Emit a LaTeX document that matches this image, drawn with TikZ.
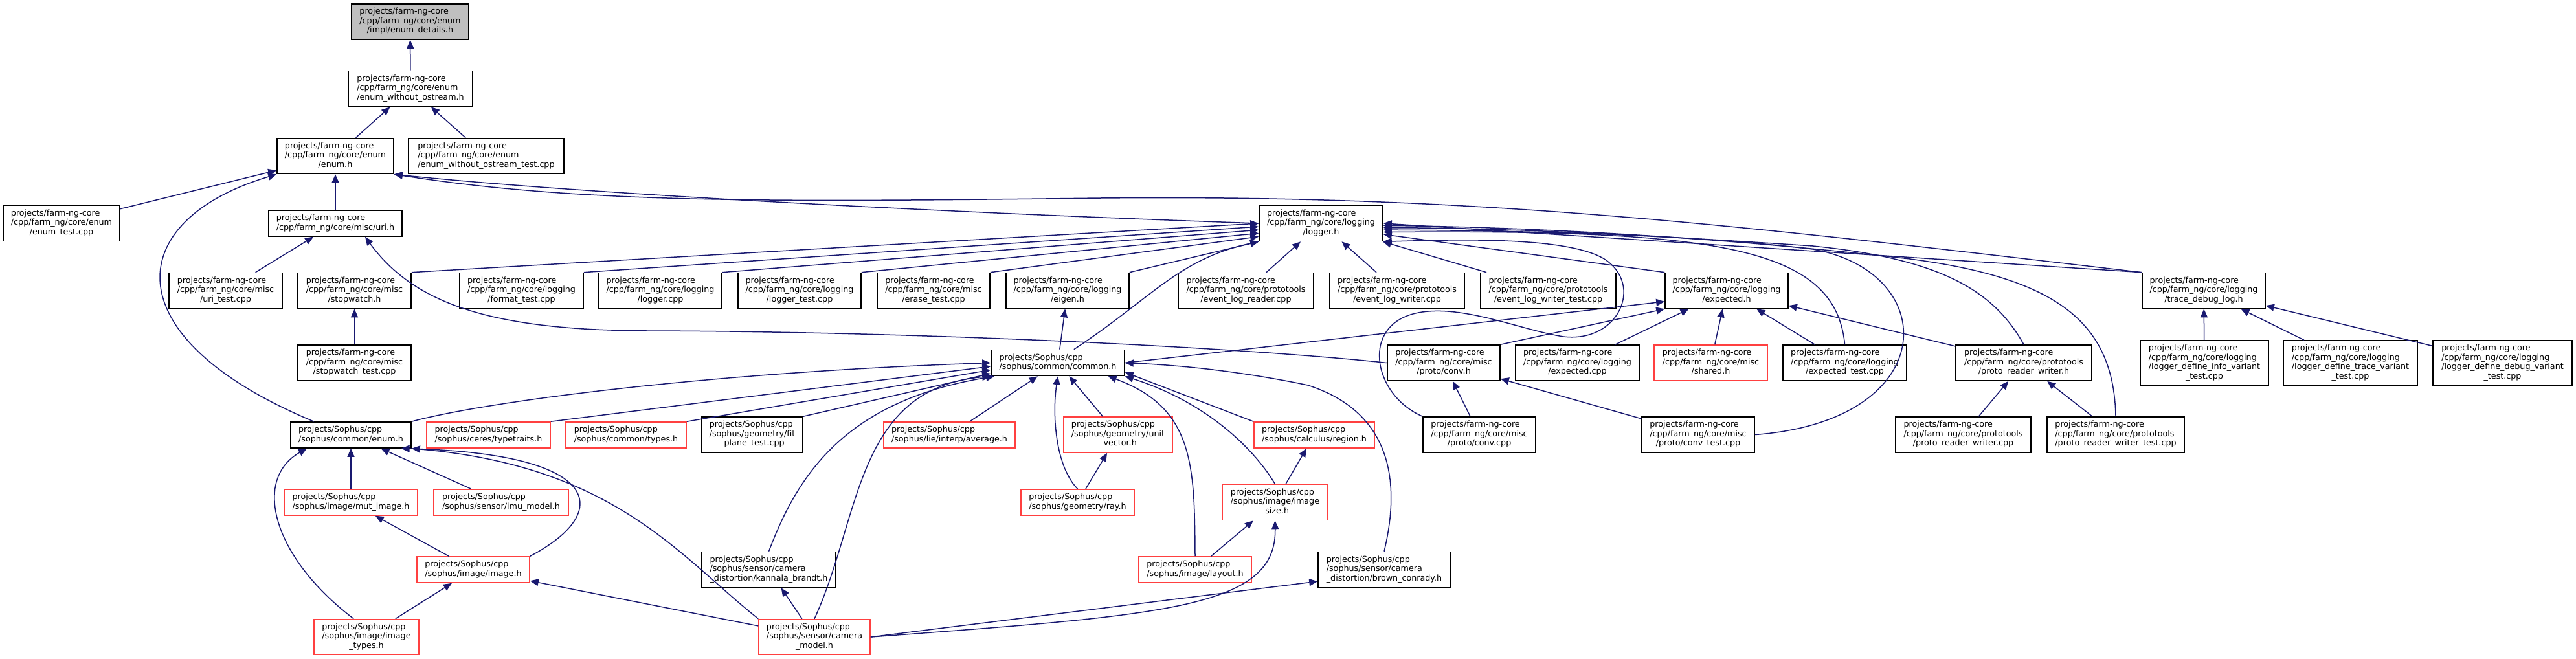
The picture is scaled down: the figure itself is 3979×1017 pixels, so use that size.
\documentclass[tikz,border=0pt]{standalone}
\usepackage{fontspec}
\setmainfont{DejaVu Sans}
\usetikzlibrary{arrows.meta}

\definecolor{edgeblue}{HTML}{191970}
\definecolor{clipred}{HTML}{FF4040}
\definecolor{rootgray}{HTML}{BFBFBF}

\newcommand\fng{projects/farm-ng-core}
\newcommand\sph{projects/Sophus/cpp}
\newcommand\fcore[1]{/cpp/farm\_ng/core/#1}
\newcommand\twoln[2]{\begin{tabular}{@{}l@{}}#1\\\multicolumn{1}{@{}c@{}}{#2}\end{tabular}}
\newcommand\threeln[3]{\begin{tabular}{@{}l@{}}#1\\#2\\\multicolumn{1}{@{}c@{}}{#3}\end{tabular}}
\newcommand\fourln[4]{\begin{tabular}{@{}l@{}}#1\\#2\\#3\\\multicolumn{1}{@{}c@{}}{#4}\end{tabular}}

\tikzset{
  filebox/.style={
    shape = rectangle,
    draw = black,
    fill = white,
    line width = 1.6pt,
    inner sep = 0pt,
    font = \fontsize{12.7}{14.5}\selectfont
  },
  redbox/.style={
    filebox,
    draw = clipred
  },
  rootbox/.style={
    filebox,
    fill = rootgray
  },
  wh/.style 2 args={
    minimum width = #1pt,
    minimum height = #2pt
  },
  incl/.style={
    draw = edgeblue,
    line width = 1.5pt,
    -{Triangle[length=13pt,width=11pt]}
  }
}

\begin{document}
\begin{tikzpicture}[x=1pt,y=-1pt]
    \fill[white] (0,0) rectangle (3979,1017);
    \useasboundingbox (0,0) rectangle (3979,1017);

    % farm-ng-core enum
    \node[rootbox, wh={181}{55}] (enumdet) at (633.5,33.5) {\threeln{\fng}{\fcore{enum}}{/impl/enum\_details.h}};
    \node[filebox, wh={192}{55}] (ewo) at (634,137) {\threeln{\fng}{\fcore{enum}}{/enum\_without\_ostream.h}};
    \node[filebox, wh={180}{55}] (enumh) at (518,241) {\threeln{\fng}{\fcore{enum}}{/enum.h}};
    \node[filebox, wh={240}{55}] (ewotest) at (751,241) {\threeln{\fng}{\fcore{enum}}{/enum\_without\_ostream\_test.cpp}};
    \node[filebox, wh={180}{55}] (enumtest) at (95,345) {\threeln{\fng}{\fcore{enum}}{/enum\_test.cpp}};
    \node[filebox, wh={206}{40}] (urih) at (518,345) {\twoln{\fng}{\fcore{misc/uri.h}}};
    \node[filebox, wh={191}{55}] (logger) at (2040.5,345) {\threeln{\fng}{\fcore{logging}}{/logger.h}};

    % row under logger.h
    \node[filebox, wh={175}{55}] (uritest) at (348.5,449) {\threeln{\fng}{\fcore{misc}}{/uri\_test.cpp}};
    \node[filebox, wh={175}{55}] (stopwatch) at (547.5,449) {\threeln{\fng}{\fcore{misc}}{/stopwatch.h}};
    \node[filebox, wh={191}{55}] (fmttest) at (805.5,449) {\threeln{\fng}{\fcore{logging}}{/format\_test.cpp}};
    \node[filebox, wh={190}{55}] (loggercpp) at (1020,449) {\threeln{\fng}{\fcore{logging}}{/logger.cpp}};
    \node[filebox, wh={190}{55}] (loggertest) at (1235,449) {\threeln{\fng}{\fcore{logging}}{/logger\_test.cpp}};
    \node[filebox, wh={174}{55}] (erasetest) at (1442,449) {\threeln{\fng}{\fcore{misc}}{/erase\_test.cpp}};
    \node[filebox, wh={190}{55}] (eigen) at (1649,449) {\threeln{\fng}{\fcore{logging}}{/eigen.h}};
    \node[filebox, wh={209}{55}] (elreader) at (1924.5,449) {\threeln{\fng}{\fcore{prototools}}{/event\_log\_reader.cpp}};
    \node[filebox, wh={208}{55}] (elwriter) at (2158,449) {\threeln{\fng}{\fcore{prototools}}{/event\_log\_writer.cpp}};
    \node[filebox, wh={209}{55}] (elwtest) at (2391.5,449) {\threeln{\fng}{\fcore{prototools}}{/event\_log\_writer\_test.cpp}};
    \node[filebox, wh={190}{55}] (expectedh) at (2667,449) {\threeln{\fng}{\fcore{logging}}{/expected.h}};
    \node[filebox, wh={190}{55}] (tdl) at (3404,449) {\threeln{\fng}{\fcore{logging}}{/trace\_debug\_log.h}};

    \node[filebox, wh={175}{55}] (swtest) at (547.5,560.5) {\threeln{\fng}{\fcore{misc}}{/stopwatch\_test.cpp}};
    \node[filebox, wh={206}{40}] (common) at (1634,560.5) {\twoln{\sph}{/sophus/common/common.h}};
    \node[filebox, wh={174}{55}] (convh) at (2230,560.5) {\threeln{\fng}{\fcore{misc}}{/proto/conv.h}};
    \node[filebox, wh={191}{55}] (expcpp) at (2436.5,560.5) {\threeln{\fng}{\fcore{logging}}{/expected.cpp}};
    \node[redbox, wh={175}{55}] (shared) at (2642.5,560.5) {\threeln{\fng}{\fcore{misc}}{/shared.h}};
    \node[filebox, wh={191}{55}] (exptest) at (2849.5,560.5) {\threeln{\fng}{\fcore{logging}}{/expected\_test.cpp}};
    \node[filebox, wh={210}{55}] (prwh) at (3126,560.5) {\threeln{\fng}{\fcore{prototools}}{/proto\_reader\_writer.h}};
    \node[filebox, wh={198}{69}] (info) at (3405,560.5) {\fourln{\fng}{\fcore{logging}}{/logger\_define\_info\_variant}{\_test.cpp}};
    \node[filebox, wh={207}{69}] (trace) at (3630.5,560.5) {\fourln{\fng}{\fcore{logging}}{/logger\_define\_trace\_variant}{\_test.cpp}};
    \node[filebox, wh={215}{69}] (debug) at (3865.5,560.5) {\fourln{\fng}{\fcore{logging}}{/logger\_define\_debug\_variant}{\_test.cpp}};

    % Sophus
    \node[filebox, wh={186}{40}] (senum) at (542,672) {\twoln{\sph}{/sophus/common/enum.h}};
    \node[redbox, wh={191}{40}] (typetraits) at (754.5,672) {\twoln{\sph}{/sophus/ceres/typetraits.h}};
    \node[redbox, wh={186}{40}] (types) at (967,672) {\twoln{\sph}{/sophus/common/types.h}};
    \node[filebox, wh={156}{55}] (fitplane) at (1162,671.5) {\threeln{\sph}{/sophus/geometry/fit}{\_plane\_test.cpp}};
    \node[redbox, wh={203}{40}] (average) at (1466.5,672) {\twoln{\sph}{/sophus/lie/interp/average.h}};
    \node[redbox, wh={168}{55}] (unitvec) at (1727,671.5) {\threeln{\sph}{/sophus/geometry/unit}{\_vector.h}};
    \node[redbox, wh={186}{40}] (region) at (2030,672) {\twoln{\sph}{/sophus/calculus/region.h}};
    \node[filebox, wh={174}{55}] (convcpp) at (2285,671.5) {\threeln{\fng}{\fcore{misc}}{/proto/conv.cpp}};
    \node[filebox, wh={174}{55}] (convtest) at (2623,671.5) {\threeln{\fng}{\fcore{misc}}{/proto/conv\_test.cpp}};
    \node[filebox, wh={209}{55}] (prwcpp) at (3032.5,671.5) {\threeln{\fng}{\fcore{prototools}}{/proto\_reader\_writer.cpp}};
    \node[filebox, wh={212}{55}] (prwtest) at (3268,671.5) {\threeln{\fng}{\fcore{prototools}}{/proto\_reader\_writer\_test.cpp}};

    \node[redbox, wh={206}{40}] (mutimage) at (542,776) {\twoln{\sph}{/sophus/image/mut\_image.h}};
    \node[redbox, wh={208}{40}] (imu) at (774,776) {\twoln{\sph}{/sophus/sensor/imu\_model.h}};
    \node[redbox, wh={175}{40}] (ray) at (1664.5,776) {\twoln{\sph}{/sophus/geometry/ray.h}};
    \node[redbox, wh={163}{55}] (imgsize) at (1969.5,776) {\threeln{\sph}{/sophus/image/image}{\_size.h}};

    \node[redbox, wh={174}{40}] (image) at (731,880) {\twoln{\sph}{/sophus/image/image.h}};
    \node[filebox, wh={207}{55}] (kannala) at (1187.5,880) {\threeln{\sph}{/sophus/sensor/camera}{\_distortion/kannala\_brandt.h}};
    \node[redbox, wh={174}{40}] (layout) at (1846,880) {\twoln{\sph}{/sophus/image/layout.h}};
    \node[filebox, wh={204}{55}] (brown) at (2138,880) {\threeln{\sph}{/sophus/sensor/camera}{\_distortion/brown\_conrady.h}};

    \node[redbox, wh={162}{55}] (imgtypes) at (566,984) {\threeln{\sph}{/sophus/image/image}{\_types.h}};
    \node[redbox, wh={172}{55}] (cammodel) at (1258,984) {\threeln{\sph}{/sophus/sensor/camera}{\_model.h}};

    % includes, arrow at the included file
    \draw[incl] (ewo) -- (enumdet);
    \draw[incl] (enumh) -- (ewo);
    \draw[incl] (ewotest) -- (ewo);
    \draw[incl] (enumtest) -- (enumh);
    \draw[incl] (urih) -- (enumh);
    \draw[incl] (senum.160) .. controls (170,520) and (190,340) .. (enumh.south west);
    \draw[incl] (logger.west) .. controls (1500,330) and (900,300) .. (enumh.south east);
    \draw[incl] (tdl.north west) .. controls (2700,350) and (2300,300) .. (1700,306)
                .. controls (1200,312) and (900,315) .. (enumh.south east);

    \draw[incl] (uritest) -- (urih);
    \draw[incl] (convh.west) .. controls (1900,535) and (1400,512) .. (1000,511)
                .. controls (760,510) and (640,470) .. ([xshift=46pt]urih.south);
    \draw[incl] (swtest) -- (stopwatch);

    \draw[incl] (stopwatch.north east) -- (logger.180);
    \draw[incl] (fmttest.north east) -- (logger.183);
    \draw[incl] (loggercpp.north east) -- (logger.186);
    \draw[incl] (loggertest.north east) -- (logger.189);
    \draw[incl] (erasetest.north east) -- (logger.192);
    \draw[incl] (eigen.north east) -- (logger.south west);
    \draw[incl] (common.40) .. controls (1780,460) and (1820,400) .. (logger.south west);
    \draw[incl] (elreader) -- (logger);
    \draw[incl] (elwriter) -- (logger);
    \draw[incl] (elwtest) -- (logger);
    \draw[incl] (tdl.north west) -- (logger.east);
    \draw[incl] (prwtest.north) .. controls (3265,500) and (3180,430) .. (2950,400)
                .. controls (2600,360) and (2300,350) .. (logger.-2);
    \draw[incl] (prwh.north) .. controls (3080,450) and (3000,400) .. (2800,380)
                .. controls (2500,360) and (2300,352) .. (logger.-4);
    \draw[incl] (convtest.east) .. controls (3000,650) and (3000,420) .. (2800,385)
                .. controls (2600,360) and (2300,356) .. (logger.-6);
    \draw[incl] (exptest.north) .. controls (2835,380) and (2650,355) .. (logger.-8);
    \draw[incl] (expectedh.north west) -- (logger.-10);
    \draw[incl] (convcpp.north west) .. controls (2120,610) and (2100,500) .. (2191,483)
                .. controls (2260,470) and (2350,510) .. (2415,520)
                .. controls (2500,530) and (2540,440) .. (2478,400)
                .. controls (2420,365) and (2250,370) .. (logger.south east);

    \draw[incl] (common) -- (eigen);
    \draw[incl] (common.east) -- (expectedh.190);
    \draw[incl] (convh.north east) -- (expectedh.south west);
    \draw[incl] (expcpp) -- (expectedh);
    \draw[incl] (shared) -- (expectedh);
    \draw[incl] (exptest) -- (expectedh);
    \draw[incl] (prwh) -- (expectedh);

    \draw[incl] (info) -- (tdl);
    \draw[incl] (trace) -- (tdl);
    \draw[incl] (debug) -- (tdl);
    \draw[incl] (convcpp) -- (convh);
    \draw[incl] (convtest) -- (convh);
    \draw[incl] (prwcpp) -- (prwh);
    \draw[incl] (prwtest) -- (prwh);

    % Sophus common.h
    \draw[incl] (senum.north east) .. controls (750,620) and (1100,575) .. (common.180);
    \draw[incl] (typetraits.north east) -- (common.183);
    \draw[incl] (types.north east) -- (common.186);
    \draw[incl] (fitplane.north east) -- (common.189);
    \draw[incl] (average) -- (common);
    \draw[incl] (unitvec) -- (common);
    \draw[incl] (ray.north) .. controls (1630,720) and (1625,640) .. (common.south);
    \draw[incl] (kannala.north) .. controls (1230,740) and (1300,620) .. (common.192);
    \draw[incl] (cammodel.north) .. controls (1330,800) and (1320,600) .. (common.south west);
    \draw[incl] (region.north west) -- (common.-8);
    \draw[incl] (imgsize.north) .. controls (1935,690) and (1860,620) .. (common.south east);
    \draw[incl] (layout.north) .. controls (1845,720) and (1845,630) .. (common.-15);
    \draw[incl] (brown.north) .. controls (2160,760) and (2160,640) .. (2020,595)
                .. controls (1900,570) and (1800,563) .. (common.east);

    % Sophus enum.h and image
    \draw[incl] (mutimage) -- (senum);
    \draw[incl] (imu) -- (senum);
    \draw[incl] (image.north east) .. controls (950,790) and (930,700) .. (senum.-15);
    \draw[incl] (imgtypes.125) .. controls (420,860) and (390,740) .. (senum.-163);
    \draw[incl] (cammodel.north west) .. controls (1050,860) and (950,720) .. (senum.south east);
    \draw[incl] (image) -- (mutimage);
    \draw[incl] (imgtypes) -- (image);
    \draw[incl] (cammodel) -- (image);
    \draw[incl] (ray) -- (unitvec);
    \draw[incl] (imgsize) -- (region);
    \draw[incl] (layout) -- (imgsize);
    \draw[incl] (cammodel.east) .. controls (1800,950) and (1972,940) .. (imgsize.south);
    \draw[incl] (cammodel) -- (kannala);
    \draw[incl] (cammodel.east) -- (brown.190);
\end{tikzpicture}
\end{document}
